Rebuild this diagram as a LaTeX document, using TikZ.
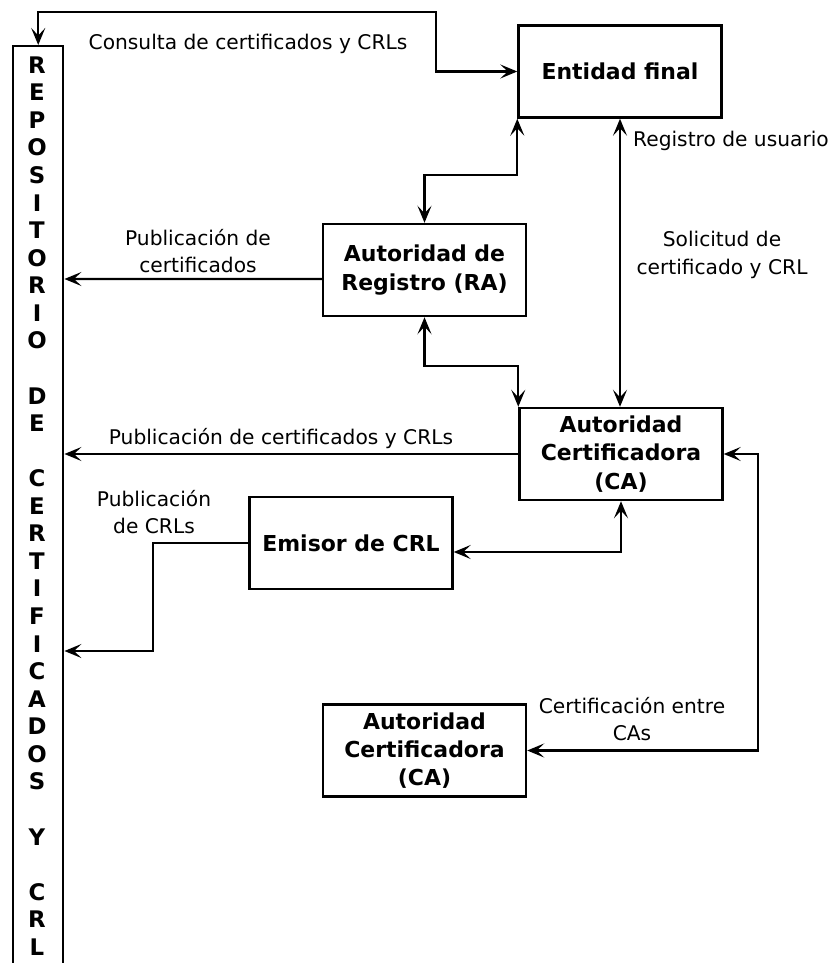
\documentclass[tikz,border=0pt]{standalone}
\usepackage{fontspec}
\setmainfont{DejaVu Sans}
\usetikzlibrary{arrows.meta}

\begin{document}
\begin{tikzpicture}[x=0.02cm, y=-0.02cm,
	caja/.style={draw, line width=1.4pt, minimum width=4.06cm, minimum height=1.84cm,
		align=center, font=\bfseries\fontsize{12.5}{16}\selectfont},
	etiqueta/.style={align=center, font=\fontsize{11.5}{15.5}\selectfont},
	letra/.style={font=\bfseries\fontsize{13}{16}\selectfont},
	flecha/.style={line width=1.3pt},
	>={Stealth[length=3.4mm, width=2.8mm, inset=1.5mm]}]
	\def \paso{27.56}
	\def \bajo{0.18cm}

	\useasboundingbox (0,0) rectangle (834,963);

	% Repositorio
	\node[draw, line width=1.4pt, minimum width=1cm, minimum height=18.6cm,
		anchor=north west] (repo) at (12,45) {};
	\foreach \c [count=\i] in {R,E,P,O,S,I,T,O,R,I,O,{},D,E,{},C,E,R,T,I,F,I,C,A,D,O,S,{},Y,{},C,R,L}
		\node[letra] (l\i) at (37, {65 + (\i-1)*\paso}) {\c};

	% Cajas
	\node[caja] (ef) at (620,71.5) {Entidad final};
	\node[caja] (ra) at (424.5,270) {Autoridad de\\Registro (RA)};
	\node[caja] (ca) at (621,454) {Autoridad\\Certificadora\\(CA)};
	\node[caja] (em) at (351,543) {Emisor de CRL};
	\node[caja] (ca2) at (424.5,750.5) {Autoridad\\Certificadora\\(CA)};

	% Flechas
	\draw[flecha, <->] (repo.north) |- (436,12) |- (ef.west);
	\draw[flecha, <->] (ra.north) -- ++(0,-48) -| (ef.south west);
	\draw[flecha, <->] (ef.south) -- (ef.south |- ca.north);
	\draw[flecha, ->] ([yshift=-\bajo]ra.west) -- (repo.east |- 0,279);
	\draw[flecha, <->] (ra.south) -- ++(0,49) -| (ca.north west);
	\draw[flecha, ->] (ca.west) -- (ca.west -| repo.east);
	\draw[flecha, <->] (ca.south) |- ([yshift=-\bajo]em.east);
	\draw[flecha, ->] (em.west) -- ++(-95,0) |- (repo.east |- 0,651);
	\draw[flecha, <->] (ca.east) -- ++(34,0) |- (ca2.east);

	% Etiquetas
	\node[etiqueta] (t1) at (248,44) {Consulta de certificados y CRLs};
	\node[etiqueta, anchor=west] (t2) at (627,141) {Registro de usuario};
	\node[etiqueta] (t3) at (722,255) {Solicitud de\\certificado y CRL};
	\node[etiqueta] (t4) at (198,251) {Publicación de\\certificados};
	\node[etiqueta] (t5) at (281,439) {Publicación de certificados y CRLs};
	\node[etiqueta] (t6) at (154,512) {Publicación\\de CRLs};
	\node[etiqueta] (t7) at (632,719) {Certificación entre\\CAs};
\end{tikzpicture}
\end{document}
